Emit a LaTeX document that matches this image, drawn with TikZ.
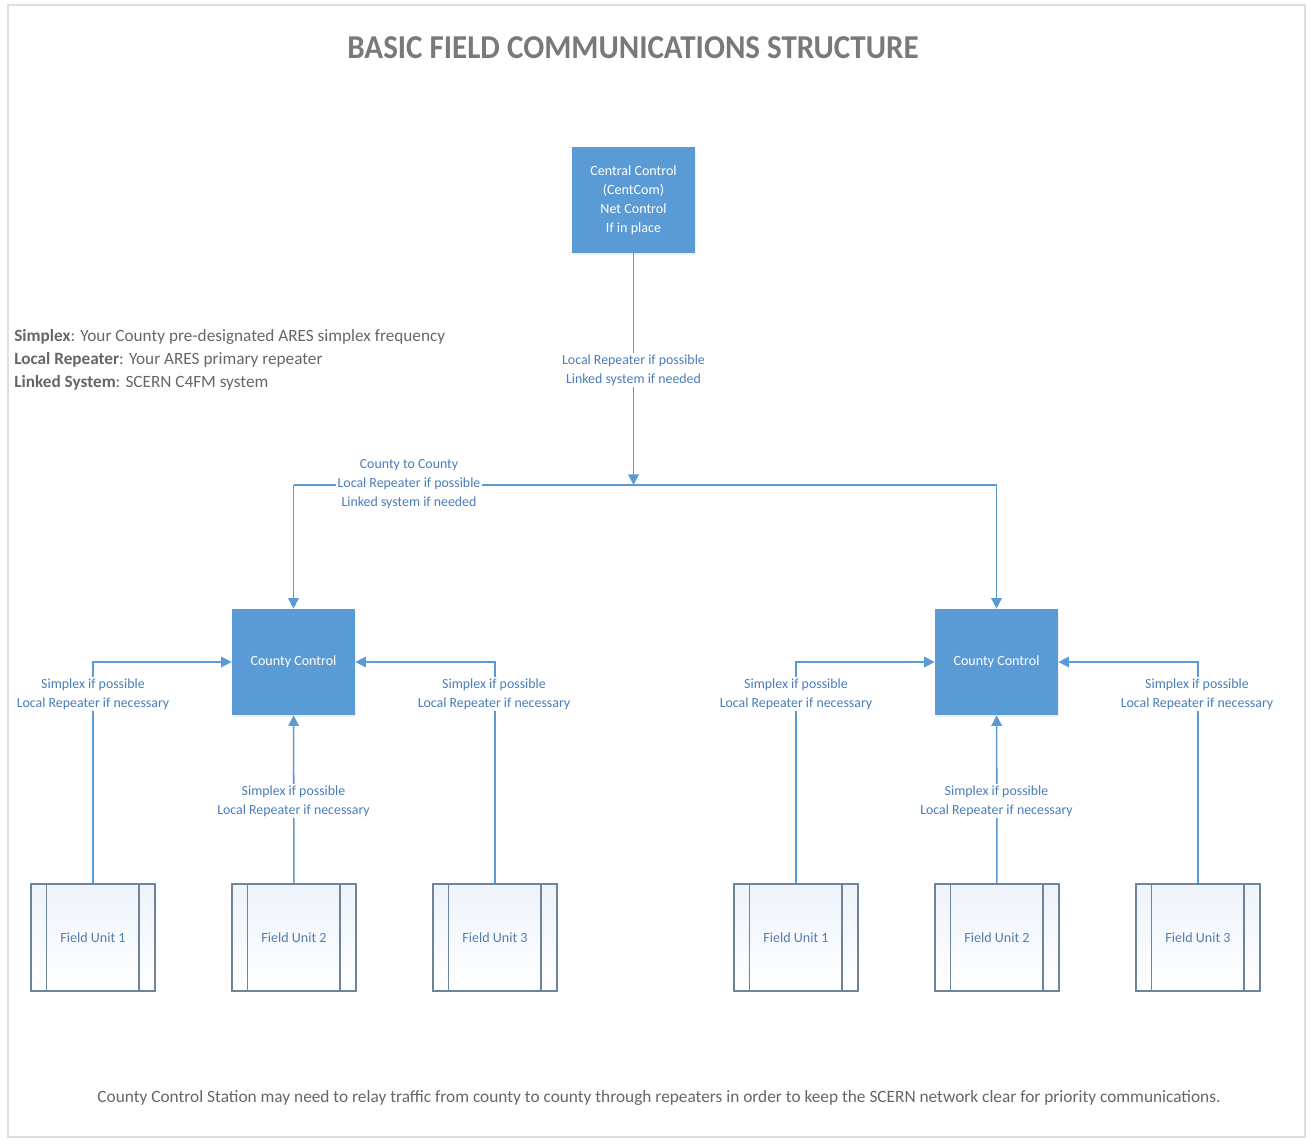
\documentclass[tikz,border=0pt]{standalone}
\usepackage{fontspec}
\setmainfont{Carlito}
\newfontfamily\titlefont[FakeStretch=0.93]{Carlito}
\usetikzlibrary{arrows.meta,shadows}
\definecolor{boxblue}{HTML}{5B9BD5}
\definecolor{lineblue}{HTML}{5B9BD5}
\definecolor{lblblue}{HTML}{4A7DBA}
\definecolor{txtgray}{HTML}{666666}
\definecolor{fuedge}{HTML}{6F8499}
\definecolor{fufill}{HTML}{EEF4FB}
\begin{document}
\begin{tikzpicture}[x=0.02cm,y=-0.02cm,
  bluebox/.style={fill=boxblue,draw=none,text=white,minimum width=2.46cm,minimum height=2.12cm,
    align=center,font=\fontsize{8}{10.8}\selectfont,inner sep=0pt,
    drop shadow={opacity=0.12,shadow xshift=0.5pt,shadow yshift=-1pt}},
  fieldunit/.style={draw=fuedge,line width=0.7pt,top color=fufill,bottom color=white,
    minimum width=2.48cm,minimum height=2.14cm,inner sep=0pt,text=lblblue!80!gray,
    font=\fontsize{8}{10}\selectfont,
    path picture={\draw[fuedge,line width=0.7pt]
      ([xshift=0.31cm]path picture bounding box.north west) -- ([xshift=0.31cm]path picture bounding box.south west)
      ([xshift=-0.32cm]path picture bounding box.north east) -- ([xshift=-0.32cm]path picture bounding box.south east);}},
  wire/.style={draw=lineblue,line width=0.9pt},
  conn/.style={wire,-{Triangle[length=6pt,width=6pt]}},
  lbl/.style={fill=white,text=lblblue,align=center,font=\fontsize{7.9}{10.8}\selectfont,inner sep=1pt},
  legend/.style={text=txtgray,align=left,font=\fontsize{9.8}{13}\selectfont,inner sep=0pt},
]
\useasboundingbox (0,0) rectangle (1307,1139);
\draw[gray!25,line width=0.6pt] (8,5) rectangle (1305,1137);

\node[text=gray!95!black,font=\titlefont\fontsize{19}{22}\selectfont\bfseries] (title) at (633,48) {BASIC FIELD COMMUNICATIONS STRUCTURE};

\node[legend,anchor=north west] (legend) at (14,329) {\textbf{Simplex}: Your County pre-designated ARES simplex frequency\\
\textbf{Local Repeater}: Your ARES primary repeater\\
\textbf{Linked System}: SCERN C4FM system};

\node[bluebox] (cc) at (633.5,200) {Central Control\\(CentCom)\\Net Control\\If in place};
\node[bluebox] (cl) at (293.5,662) {County Control};
\node[bluebox] (cr) at (996.5,662) {County Control};

\node[fieldunit] (fa1) at (93,937.5) {Field Unit 1};
\node[fieldunit] (fa2) at (294,937.5) {Field Unit 2};
\node[fieldunit] (fa3) at (495,937.5) {Field Unit 3};
\node[fieldunit] (fb1) at (796,937.5) {Field Unit 1};
\node[fieldunit] (fb2) at (997,937.5) {Field Unit 2};
\node[fieldunit] (fb3) at (1198,937.5) {Field Unit 3};

\coordinate (jc) at (633.5,485);
\coordinate (jl) at (293.5,485);
\coordinate (jr) at (996.5,485);

\draw[conn] (cc) -- (jc);
\draw[wire] (jl) -- (jr);
\draw[conn] (jl) -- (cl);
\draw[conn] (jr) -- (cr);

\draw[conn] (fa1.north) |- (cl.west);
\draw[conn] (fa3.north) |- (cl.east);
\draw[conn] (fa2) -- (cl);
\draw[conn] (fb1.north) |- (cr.west);
\draw[conn] (fb3.north) |- (cr.east);
\draw[conn] (fb2) -- (cr);

\node[lbl] (l0) at (633.5,370) {Local Repeater if possible\\Linked system if needed};
\node[lbl] (lcc) at (409,484.5) {County to County\\Local Repeater if possible\\Linked system if needed};
\node[lbl] (la1) at (93,694) {Simplex if possible\\Local Repeater if necessary};
\node[lbl] (la3) at (494,694) {Simplex if possible\\Local Repeater if necessary};
\node[lbl] (la2) at (293.5,801) {Simplex if possible\\Local Repeater if necessary};
\node[lbl] (lb1) at (796,694) {Simplex if possible\\Local Repeater if necessary};
\node[lbl] (lb3) at (1197,694) {Simplex if possible\\Local Repeater if necessary};
\node[lbl] (lb2) at (996.5,801) {Simplex if possible\\Local Repeater if necessary};

\node[text=txtgray,font=\fontsize{9.85}{12}\selectfont] (note) at (659,1098) {County Control Station may need to relay traffic from county to county through repeaters in order to keep the SCERN network clear for priority communications.};
\end{tikzpicture}
\end{document}
